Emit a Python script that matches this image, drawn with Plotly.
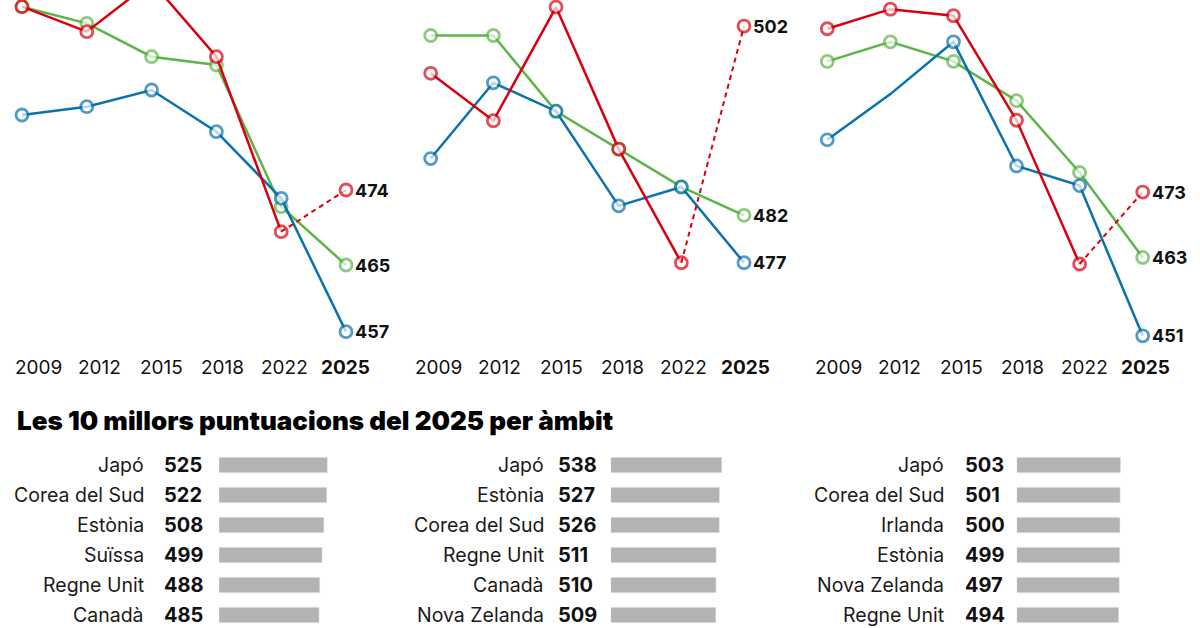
import plotly.graph_objects as go

years = ["2009", "2012", "2015", "2018", "2022", "2025"]

# panel 1
blue_1 = [483, 484, 486, 481, 473, 457]
green_1 = [496, 494, 490, 489, 472, 465]
red_1 = [496, 493, 499, 490, 469, 474]

# panel 2
blue_2 = [488, 496, 493, 483, 485, 477]
green_2 = [501, 501, 493, 489, 485, 482]
red_2 = [497, 492, 504, 489, 477, 502]

# panel 3
blue_3 = [481, 488, 496, 477, 474, 451]
green_3 = [493, 496, 493, 487, 476, 463]
red_3 = [498, 501, 500, 484, 462, 473]

top_countries_1 = ["Japó", "Corea del Sud", "Estònia", "Suïssa", "Regne Unit", "Canadà"]
top_scores_1 = [525, 522, 508, 499, 488, 485]
top_countries_2 = ["Japó", "Estònia", "Corea del Sud", "Regne Unit", "Canadà", "Nova Zelanda"]
top_scores_2 = [538, 527, 526, 511, 510, 509]
top_countries_3 = ["Japó", "Corea del Sud", "Irlanda", "Estònia", "Nova Zelanda", "Regne Unit"]
top_scores_3 = [503, 501, 500, 499, 497, 494]

title_text = "Les 10 millors puntuacions del 2025 per àmbit"

BLUE = "#0a72ad"
GREEN = "#5db548"
RED = "#d8000f"
BAR = "#b3b3b3"
FONT = "Inter"

W, H = 1200, 628


def fx(p):
    return p / W


def fy(p):
    return 1 - p / H


panels = [
    (blue_1, green_1, red_1, None),
    (blue_2, green_2, red_2, None),
    (blue_3, green_3, red_3, 1),  # blue 2012 has no marker in panel 3
]
tables = [
    (top_countries_1, top_scores_1),
    (top_countries_2, top_scores_2),
    (top_countries_3, top_scores_3),
]

# pixel layout of each column
col_left = [0, 400, 800]
first_pt = [22, 30.7, 27.3]
last_pt = [346, 344, 342.7]
y_ranges = [[455.4, 496.8], [468.3, 504.75], [449.6, 502.4]]
label_first, label_step, label_y = 38, 61.5, 367
name_right = [146, 546, 946]
value_left = [162, 556, 963]
bar_left = [219, 610.7, 1016.7]
bar_px_per_pt = 0.2065
line_bottom = 345
rows_top = 450
row_px = 30

idx = list(range(len(years)))

fig = go.Figure()
annotations = []
layout = {}


def marker(color, count, skip=None):
    sizes = [12] * count
    if skip is not None:
        sizes[skip] = 0
    return dict(symbol="circle", size=sizes, color="white",
                line=dict(color=color, width=2.8))


for i, (blue, green, red, hidden) in enumerate(panels):
    n = i + 1
    sfx = str(n) if n > 1 else ""
    xa, ya = "x" + sfx, "y" + sfx

    fig.add_trace(go.Scatter(x=idx, y=green, mode="lines+markers",
                             line=dict(color=GREEN, width=2.5),
                             marker=marker(GREEN, 6), xaxis=xa, yaxis=ya,
                             cliponaxis=False))
    fig.add_trace(go.Scatter(x=idx, y=blue, mode="lines+markers",
                             line=dict(color=BLUE, width=2.5),
                             marker=marker(BLUE, 6, hidden), xaxis=xa, yaxis=ya,
                             cliponaxis=False))
    fig.add_trace(go.Scatter(x=idx[:5], y=red[:5], mode="lines+markers",
                             line=dict(color=RED, width=2.5),
                             marker=marker(RED, 5), xaxis=xa, yaxis=ya,
                             cliponaxis=False))
    fig.add_trace(go.Scatter(x=idx[4:], y=red[4:], mode="lines+markers",
                             line=dict(color=RED, width=2, dash="5px,4px"),
                             marker=marker(RED, 2, 0), xaxis=xa, yaxis=ya,
                             cliponaxis=False))

    for series in (blue, green, red):
        annotations.append(dict(x=idx[-1], y=series[-1], xref=xa, yref=ya,
                                text=f"<b>{series[-1]}</b>", showarrow=False,
                                xanchor="left", yanchor="middle", xshift=7,
                                font=dict(family=FONT, size=18, color="#111")))

    sp = (last_pt[i] - first_pt[i]) / 5
    layout["xaxis" + sfx] = dict(
        domain=[fx(col_left[i]), fx(col_left[i] + 400)],
        range=[-first_pt[i] / sp, (400 - first_pt[i]) / sp],
        visible=False, anchor=ya)
    layout["yaxis" + sfx] = dict(
        domain=[fy(line_bottom), 1], range=y_ranges[i],
        visible=False, anchor=xa)

    # year labels (spaced a bit tighter than the points)
    for k, yr in enumerate(years):
        txt = f"<b>{yr}</b>" if k == len(years) - 1 else yr
        annotations.append(dict(x=fx(col_left[i] + label_first + label_step * k),
                                y=fy(label_y), xref="paper", yref="paper",
                                text=txt, showarrow=False, xanchor="center",
                                yanchor="middle",
                                font=dict(family=FONT, size=19, color="#111")))

    # top-10 bar list
    countries, scores = tables[i]
    bx, by = f"x{n + 3}", f"y{n + 3}"
    fig.add_trace(go.Bar(x=scores, y=countries, orientation="h",
                         marker_color=BAR, xaxis=bx, yaxis=by))
    span = 560
    layout[f"xaxis{n + 3}"] = dict(
        domain=[fx(bar_left[i]), fx(bar_left[i] + span * bar_px_per_pt)],
        range=[0, span], visible=False, anchor=by)
    visible_rows = (H - rows_top) / row_px
    layout[f"yaxis{n + 3}"] = dict(
        domain=[0, fy(rows_top)], range=[visible_rows - 0.5, -0.5],
        type="category", categoryorder="array", categoryarray=countries,
        visible=False, anchor=bx)
    for c, s in zip(countries, scores):
        annotations.append(dict(x=fx(name_right[i]), y=c, xref="paper", yref=by,
                                text=c, showarrow=False, xanchor="right",
                                yanchor="middle",
                                font=dict(family=FONT, size=19.5, color="#1a1a1a")))
        annotations.append(dict(x=fx(value_left[i]), y=c, xref="paper", yref=by,
                                text=f"<b>{s}</b>", showarrow=False,
                                xanchor="left", yanchor="middle",
                                font=dict(family=FONT, size=20, color="#111")))

annotations.append(dict(x=fx(15), y=fy(420), xref="paper", yref="paper",
                        text=title_text, showarrow=False, xanchor="left",
                        yanchor="middle",
                        font=dict(family=FONT, size=26, color="#000", weight=900)))

fig.update_layout(**layout)
fig.update_layout(
    width=W, height=H, margin=dict(l=0, r=0, t=0, b=0),
    paper_bgcolor="white", plot_bgcolor="white",
    showlegend=False, bargap=0.49, annotations=annotations,
)

fig.write_html("out.html", config={"displayModeBar": False},
               post_script="document.body.style.margin = '0px';")
